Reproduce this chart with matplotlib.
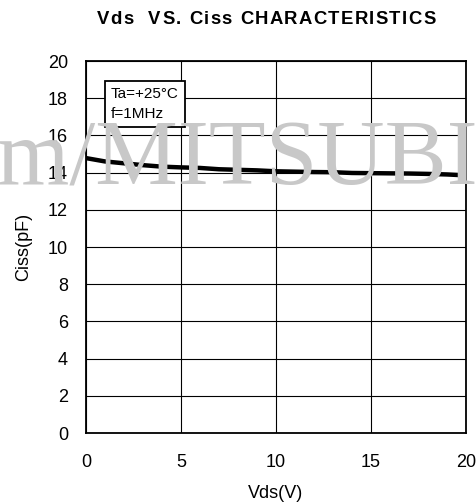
import matplotlib
matplotlib.use("Agg")
import matplotlib.pyplot as plt

vds = [0, 1, 2, 3, 4, 5, 6, 7, 8, 9, 10, 11, 12, 13, 14, 15, 16, 17, 18, 19, 20]
ciss = [14.78, 14.6, 14.5, 14.4, 14.32, 14.28, 14.25, 14.18, 14.15, 14.12, 14.07, 14.05, 14.03, 14.02, 13.98, 13.97, 13.96, 13.95, 13.93, 13.9, 13.85]
xticks = [0, 5, 10, 15, 20]
yticks = [0, 2, 4, 6, 8, 10, 12, 14, 16, 18, 20]
title = "Vds  VS. Ciss CHARACTERISTICS"

plt.rcParams['font.family'] = ['Liberation Sans', 'DejaVu Sans']

fig = plt.figure(figsize=(4.77, 5.04), dpi=100)
fig.text(-0.006, 1-184/504, "m/MITSUBI", family="Liberation Serif", fontsize=67,
         color="#c8c8c8", ha="left", va="baseline", zorder=0)

ax = fig.add_axes([86/477, 1-433/504, 380/477, 372/504])
ax.set_facecolor("none")
ax.plot(vds, ciss, color="black", lw=3.2, zorder=3, solid_capstyle="butt")
ax.set_xlim(0, 20)
ax.set_ylim(0, 20)
ax.set_xticks(xticks)
ax.set_yticks(yticks)
ax.grid(True, color="black", lw=0.8)
ax.tick_params(length=0, labelsize=13)
ax.tick_params(axis="y", pad=13)
ax.tick_params(axis="x", pad=15)
for s in ax.spines.values():
    s.set_linewidth(1.3)
ax.set_xlabel("Vds(V)", fontsize=13, labelpad=10)
ax.set_ylabel("Ciss(pF)", fontsize=13, labelpad=11)
ax.text(1.3, 17.68, "Ta=+25°C\nf=1MHz", fontsize=11, va="center", ha="left",
        linespacing=1.5, zorder=4,
        bbox=dict(boxstyle="square,pad=0.4", fc="white", ec="black", lw=1.3))

# title with slightly widened letter spacing
renderer = fig.canvas.get_renderer()
fs = 13.3
extra = 1.3  # px between characters
widths = []
for ch in title:
    t = fig.text(0, 0, ch if ch != " " else "n", fontsize=fs, fontweight="bold")
    w = t.get_window_extent(renderer).width
    if ch == " ":
        w *= 0.5
    widths.append(w)
    t.remove()
total = sum(widths) + extra * (len(title) - 1)
x = 266 - total / 2
for ch, w in zip(title, widths):
    if ch != " ":
        fig.text(x / 477, 1 - 20 / 504, ch, fontsize=fs, fontweight="bold",
                 ha="left", va="center")
    x += w + extra
fig.savefig("out.png", dpi=100)
